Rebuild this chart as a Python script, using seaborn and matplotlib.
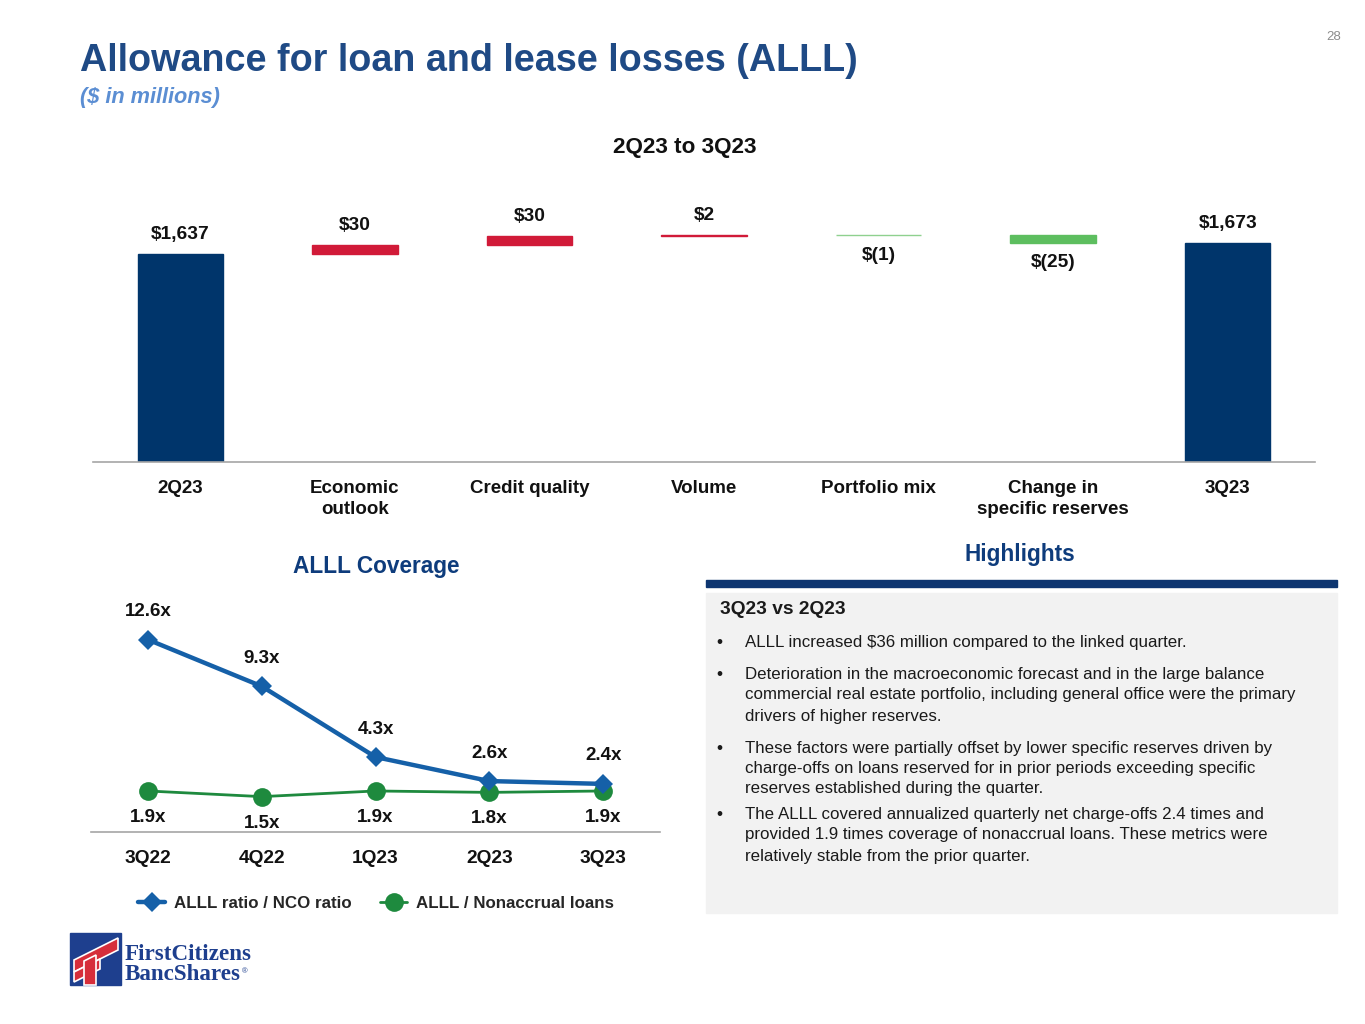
import matplotlib
matplotlib.use("Agg")
import matplotlib.pyplot as plt
import matplotlib.patches as mpatches
from matplotlib.lines import Line2D
import seaborn as sns
import pandas as pd

# ---------------- data ----------------
wf_categories = ["2Q23", "Economic\noutlook", "Credit quality", "Volume",
                 "Portfolio mix", "Change in\nspecific reserves", "3Q23"]
wf_values = [1637, 30, 30, 2, -1, -25, 1673]
wf_labels = ["$1,637", "$30", "$30", "$2", "$(1)", "$(25)", "$1,673"]
wf_kinds = ["total", "step", "step", "step", "step", "step", "total"]

quarters = ["3Q22", "4Q22", "1Q23", "2Q23", "3Q23"]
alll_nco = [12.6, 9.3, 4.3, 2.6, 2.4]
alll_nonaccrual = [1.9, 1.5, 1.9, 1.8, 1.9]

highlight_lines = [
    ("ALLL increased $36 million compared to the linked quarter.",),
    ("Deterioration in the macroeconomic forecast and in the large balance",
     "commercial real estate portfolio, including general office were the primary",
     "drivers of higher reserves."),
    ("These factors were partially offset by lower specific reserves driven by",
     "charge-offs on loans reserved for in prior periods exceeding specific",
     "reserves established during the quarter."),
    ("The ALLL covered annualized quarterly net charge-offs 2.4 times and",
     "provided 1.9 times coverage of nonaccrual loans. These metrics were",
     "relatively stable from the prior quarter."),
]

# ---------------- style ----------------
sns.set_theme(style="white")
plt.rcParams["font.family"] = ["Liberation Sans", "DejaVu Sans"]

W, H = 1365, 1024
fig = plt.figure(figsize=(W / 100, H / 100), dpi=100)
fig.patch.set_facecolor("white")

def fx(px):
    return px / W

def fy(py):
    return 1 - py / H

NAVY = "#00356B"
TITLE_BLUE = "#1F4A85"
RED = "#D11A38"
GREEN = "#5DBE5F"
LIGHT_GREEN = "#8FD18F"
LINE_BLUE = "#1560A8"
LINE_GREEN = "#1E8A3E"
TXT = "#111111"

# ---------------- titles ----------------
fig.text(fx(80), fy(61), "Allowance for loan and lease losses (ALLL)", fontsize=27.2,
         fontweight="bold", color=TITLE_BLUE, va="center", ha="left")
fig.text(fx(80), fy(98), "($ in millions)", fontsize=15.7, fontweight="bold",
         fontstyle="italic", color="#5B8ED3", va="center", ha="left")
fig.text(fx(1334), fy(37), "28", fontsize=9.5, color="#8C8C8C", va="center", ha="center")
fig.text(fx(685), fy(147), "2Q23 to 3Q23", fontsize=16.2, fontweight="bold",
         color=TXT, va="center", ha="center")

# ---------------- waterfall ----------------
ax1 = fig.add_axes([fx(93), fy(462), fx(1315 - 93), (462 - 200) / H])
bottoms, heights, colors = [], [], []
cum = 0
for v, k in zip(wf_values, wf_kinds):
    if k == "total":
        bottoms.append(0)
        heights.append(v)
        colors.append(NAVY)
        cum = v
    else:
        bottoms.append(cum)
        heights.append(v)
        if v > 0:
            colors.append(RED)
        else:
            colors.append(GREEN if v <= -5 else LIGHT_GREEN)
        cum += v
xpos = list(range(len(wf_categories)))
ax1.bar(xpos, heights, bottom=bottoms, width=0.49, color=colors,
        edgecolor=colors, linewidth=1.0)
ax1.set_xlim(-0.5, len(wf_categories) - 0.5)
ax1.set_ylim(957, 1814)
for x, b, h, lab in zip(xpos, bottoms, heights, wf_labels):
    top = b + h
    if h >= 0:
        ax1.annotate(lab, (x, top), xytext=(0, 8), textcoords="offset points",
                     ha="center", va="bottom", fontsize=13.8, fontweight="bold", color=TXT)
    else:
        ax1.annotate(lab, (x, top), xytext=(0, -8), textcoords="offset points",
                     ha="center", va="top", fontsize=13.8, fontweight="bold", color=TXT)
ax1.set_xticks(xpos)
ax1.set_xticklabels(wf_categories, fontsize=13.5, fontweight="bold", color=TXT,
                    linespacing=1.3)
ax1.tick_params(axis="x", length=0, pad=13)
ax1.set_yticks([])
for s in ["top", "right", "left"]:
    ax1.spines[s].set_visible(False)
ax1.spines["bottom"].set_color("#A6A6A6")
ax1.spines["bottom"].set_linewidth(1.2)
ax1.set_facecolor("none")

# ---------------- line chart ----------------
fig.text(fx(376), fy(567), "ALLL Coverage", fontsize=16.3, fontweight="bold",
         color="#0E3C7C", va="center", ha="center")
ax2 = fig.add_axes([fx(91), fy(832), fx(660 - 91), (832 - 600) / H])
df = pd.DataFrame({"q": quarters, "nco": alll_nco, "na": alll_nonaccrual})
df["x"] = range(len(quarters))
sns.lineplot(data=df, x="x", y="nco", ax=ax2, color=LINE_BLUE, linewidth=3.2,
             marker="D", markersize=10, markeredgewidth=0, zorder=3)
sns.lineplot(data=df, x="x", y="na", ax=ax2, color=LINE_GREEN, linewidth=2.0,
             marker="o", markersize=13.5, markeredgewidth=0, zorder=2)
for x, v in zip(df["x"], alll_nco):
    ax2.annotate(f"{v:.1f}x", (x, v), xytext=(0, 14), textcoords="offset points",
                 ha="center", va="bottom", fontsize=13.5, fontweight="bold", color=TXT)
for x, v in zip(df["x"], alll_nonaccrual):
    ax2.annotate(f"{v:.1f}x", (x, v), xytext=(0, -13), textcoords="offset points",
                 ha="center", va="top", fontsize=13.5, fontweight="bold", color=TXT)
ax2.set_xlim(-0.5, len(quarters) - 0.5)
ax2.set_ylim(-1.0, 15.4)
ax2.set_xticks(list(df["x"]))
ax2.set_xticklabels(quarters, fontsize=13.8, fontweight="bold", color=TXT)
ax2.tick_params(axis="x", length=0, pad=13)
ax2.set_yticks([])
ax2.set_xlabel("")
ax2.set_ylabel("")
for s in ["top", "right", "left"]:
    ax2.spines[s].set_visible(False)
ax2.spines["bottom"].set_color("#A6A6A6")
ax2.spines["bottom"].set_linewidth(1.2)
ax2.set_facecolor("none")

handles = [
    Line2D([0], [0], color=LINE_BLUE, linewidth=3.2, marker="D", markersize=10,
           markeredgewidth=0),
    Line2D([0], [0], color=LINE_GREEN, linewidth=2.0, marker="o", markersize=13.5,
           markeredgewidth=0),
]
fig.legend(handles, ["ALLL ratio / NCO ratio", "ALLL / Nonaccrual loans"],
           loc="center", bbox_to_anchor=(fx(376), fy(903)), ncol=2, frameon=False,
           prop={"size": 12.2, "weight": "bold"}, handlelength=1.6, columnspacing=1.7,
           handletextpad=0.5)

# ---------------- highlights ----------------
fig.text(fx(1020), fy(555), "Highlights", fontsize=16.3, fontweight="bold",
         color="#0E3C7C", va="center", ha="center")
fig.patches.append(mpatches.Rectangle((fx(706), fy(587)), fx(1337 - 706), 7 / H,
                                      transform=fig.transFigure, color="#0D3570", zorder=1))
fig.patches.append(mpatches.Rectangle((fx(706), fy(913)), fx(1337 - 706), (913 - 593) / H,
                                      transform=fig.transFigure, color="#F2F2F2", zorder=0))
fig.text(fx(720), fy(610), "3Q23 vs 2Q23", fontsize=13.8, fontweight="bold",
         color="#1A1A1A", va="center", ha="left")
line_y = [[643], [675, 695, 716], [748, 768, 789], [815, 835, 856]]
for para, ys in zip(highlight_lines, line_y):
    fig.text(fx(719), fy(ys[0]), "\u2022", fontsize=12.5, color="#1A1A1A",
             va="center", ha="center")
    for txt, yy in zip(para, ys):
        fig.text(fx(745), fy(yy), txt, fontsize=12.2, color="#1A1A1A",
                 va="center", ha="left")

# ---------------- logo ----------------
fig.patches.append(mpatches.Rectangle((fx(70), fy(985)), fx(51), 52 / H,
                                      transform=fig.transFigure, color="#1E3F8E", zorder=2))
red_shapes = [
    [(74, 960), (118, 938), (118, 950), (74, 972)],
    [(74, 972), (100, 959), (100, 969), (74, 982)],
    [(84, 985), (96, 985), (96, 955), (84, 961)],
]
for poly in red_shapes:
    fig.patches.append(mpatches.Polygon([(fx(a), fy(b)) for a, b in poly], closed=True,
                                        transform=fig.transFigure, facecolor="#D62E3A",
                                        edgecolor="white", linewidth=1.2, zorder=3))
fig.text(fx(125), fy(955), "FirstCitizens", fontsize=16.6, fontweight="bold", color="#1E3F8E",
         family=["Liberation Serif", "DejaVu Serif"], va="center", ha="left")
fig.text(fx(125), fy(975), "BancShares", fontsize=16.6, fontweight="bold", color="#1E3F8E",
         family=["Liberation Serif", "DejaVu Serif"], va="center", ha="left")
fig.text(fx(242), fy(972), "\u00ae", fontsize=5.5, color="#1E3F8E", va="center", ha="left")

fig.savefig("out.png", dpi=100, facecolor="white")
